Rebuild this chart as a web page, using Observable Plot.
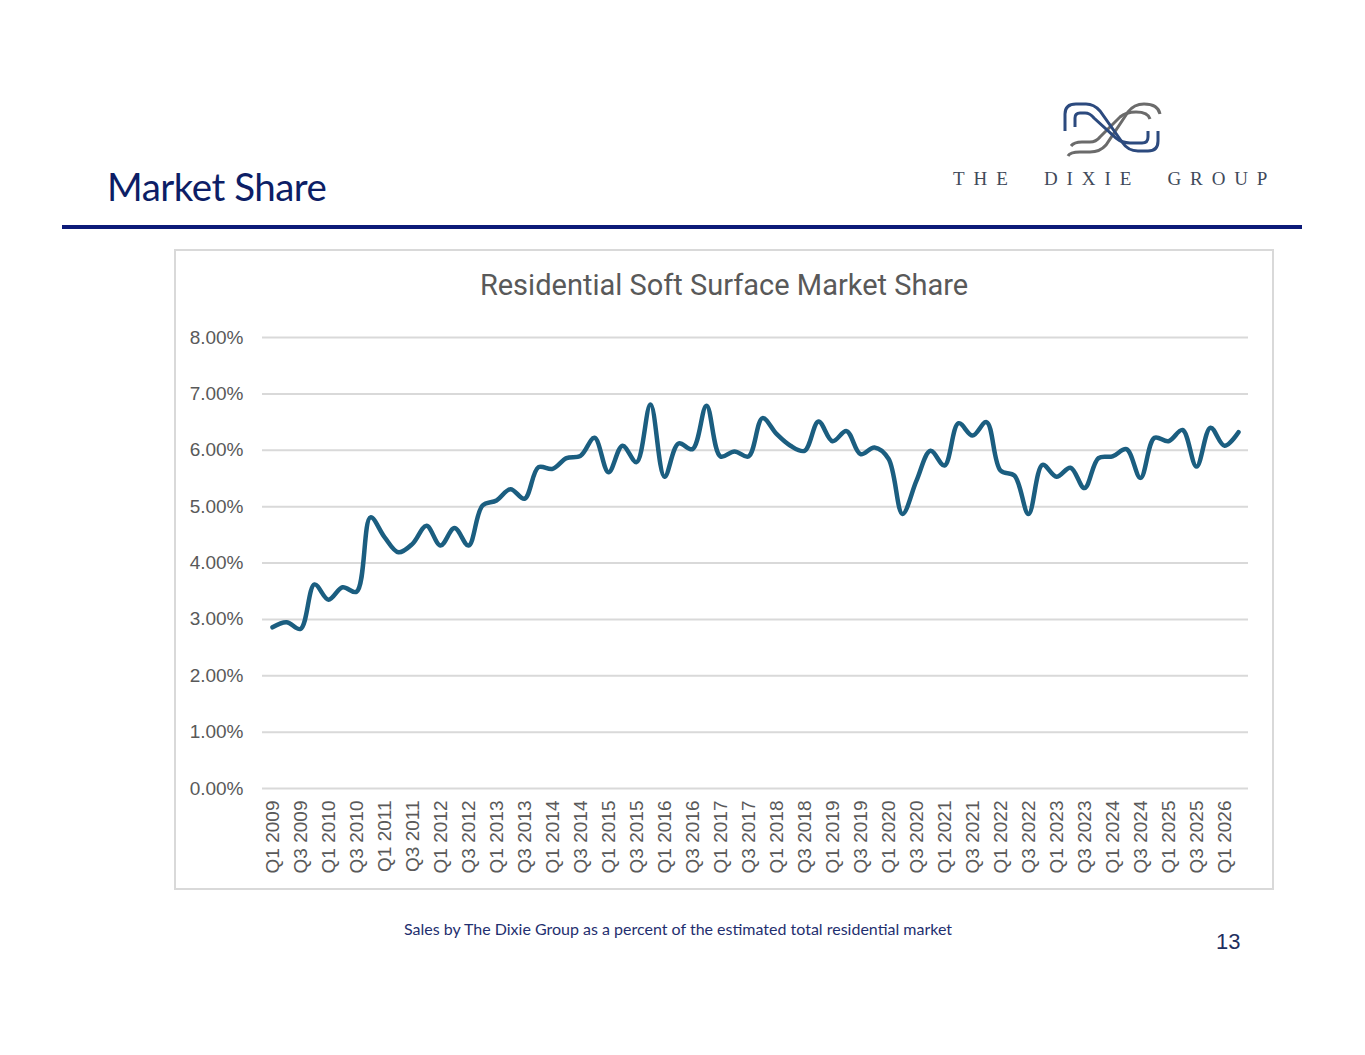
<!DOCTYPE html>
<html>
<head>
<meta charset="utf-8">
<script src="https://cdn.jsdelivr.net/npm/d3@7"></script>
<script src="https://cdn.jsdelivr.net/npm/@observablehq/plot@0.6"></script>
<style>
  html, body { margin: 0; padding: 0; background: #fff; }
  body { width: 1365px; height: 1055px; position: relative; overflow: hidden; }
  .abs { position: absolute; }
  #header { left: 107px; top: 163px; font-family: Lato, "Open Sans", sans-serif; font-size: 38.5px; color: #0d1e66; letter-spacing: -0.5px; white-space: nowrap; }
  #rule { left: 62px; top: 225px; width: 1240px; height: 4px; background: #0c1a78; }
  #box { left: 174px; top: 249px; width: 1096px; height: 637px; border: 2px solid #d9d9d9; }
  #ctitle { left: 174px; width: 1100px; top: 268px; text-align: center; font-family: Roboto, "Open Sans", sans-serif; font-size: 29px; color: #595959; white-space: nowrap; }
  #chart { left: 174px; top: 320px; }
  #footer { left: 404px; top: 919px; font-family: Lato, sans-serif; font-size: 16px; color: #1f2f6f; white-space: nowrap; }
  #page { left: 1216px; top: 929px; font-family: "Liberation Sans", Arial, sans-serif; font-size: 22px; color: #1f2f5f; }
  #logotext { left: 953px; top: 168px; font-family: "Liberation Serif", serif; font-size: 19px; color: #3f4a5a; letter-spacing: 8.9px; white-space: nowrap; }
  #logo { left: 1055px; top: 96px; }
</style>
</head>
<body>
<div id="header" class="abs">Market Share</div>
<svg id="logo" class="abs" width="120" height="70" viewBox="1055 96 120 70">
  <g fill="none" stroke-width="3" stroke-linecap="butt">
    <path stroke="#6b6b6b" d="M1068,156 Q1070,152 1080,152 H1090 Q1100,152 1106,145 L1128,112 Q1134,104 1144,104 Q1158,104 1160,114"/>
    <path stroke="#6b6b6b" d="M1071,146 Q1074,142 1082,142 H1090 Q1096,142 1100,137 L1120,117 Q1126,112 1136,112 Q1148,112 1150,119"/>
    <path stroke="#2c4a7e" d="M1065,131 V114 Q1065,104 1076,104 H1086 Q1094,104 1100,111 L1122,142 Q1128,151 1138,151 H1148 Q1158,151 1158,141 V131"/>
    <path stroke="#2c4a7e" d="M1075,127 V118 Q1075,113 1080,113 H1085 Q1090,113 1094,118 L1116,138 Q1122,143 1130,143 H1142 Q1148,143 1148,137 V131"/>
  </g>
</svg>
<div id="logotext" class="abs">THE&nbsp;&nbsp;DIXIE&nbsp;&nbsp;GROUP</div>
<div id="rule" class="abs"></div>
<div id="box" class="abs"></div>
<div id="ctitle" class="abs">Residential Soft Surface Market Share</div>
<div id="chart" class="abs"></div>
<div id="footer" class="abs">Sales by The Dixie Group as a percent of the estimated total residential market</div>
<div id="page" class="abs">13</div>
<script>
const quarters = [
  "Q1 2009","Q2 2009","Q3 2009","Q4 2009","Q1 2010","Q2 2010","Q3 2010","Q4 2010",
  "Q1 2011","Q2 2011","Q3 2011","Q4 2011","Q1 2012","Q2 2012","Q3 2012","Q4 2012",
  "Q1 2013","Q2 2013","Q3 2013","Q4 2013","Q1 2014","Q2 2014","Q3 2014","Q4 2014",
  "Q1 2015","Q2 2015","Q3 2015","Q4 2015","Q1 2016","Q2 2016","Q3 2016","Q4 2016",
  "Q1 2017","Q2 2017","Q3 2017","Q4 2017","Q1 2018","Q2 2018","Q3 2018","Q4 2018",
  "Q1 2019","Q2 2019","Q3 2019","Q4 2019","Q1 2020","Q2 2020","Q3 2020","Q4 2020",
  "Q1 2021","Q2 2021","Q3 2021","Q4 2021","Q1 2022","Q2 2022","Q3 2022","Q4 2022",
  "Q1 2023","Q2 2023","Q3 2023","Q4 2023","Q1 2024","Q2 2024","Q3 2024","Q4 2024",
  "Q1 2025","Q2 2025","Q3 2025","Q4 2025","Q1 2026","Q2 2026"
];
const share = [
  2.86, 2.95, 2.83, 3.62, 3.35, 3.57, 3.49, 4.81,
  4.46, 4.19, 4.34, 4.66, 4.31, 4.62, 4.31, 5.02,
  5.11, 5.31, 5.14, 5.70, 5.67, 5.86, 5.90, 6.22,
  5.61, 6.08, 5.79, 6.81, 5.53, 6.12, 6.02, 6.79,
  5.89, 5.98, 5.89, 6.57, 6.29, 6.08, 5.99, 6.51,
  6.16, 6.34, 5.93, 6.05, 5.85, 4.87, 5.46, 5.99,
  5.73, 6.48, 6.26, 6.50, 5.64, 5.55, 4.87, 5.74,
  5.53, 5.69, 5.33, 5.86, 5.89, 6.02, 5.51, 6.22,
  6.16, 6.36, 5.71, 6.40, 6.08, 6.32
];
const xTickLabels = [
  "Q1 2009","Q3 2009","Q1 2010","Q3 2010","Q1 2011","Q3 2011","Q1 2012","Q3 2012",
  "Q1 2013","Q3 2013","Q1 2014","Q3 2014","Q1 2015","Q3 2015","Q1 2016","Q3 2016",
  "Q1 2017","Q3 2017","Q1 2018","Q3 2018","Q1 2019","Q3 2019","Q1 2020","Q3 2020",
  "Q1 2021","Q3 2021","Q1 2022","Q3 2022","Q1 2023","Q3 2023","Q1 2024","Q3 2024",
  "Q1 2025","Q3 2025","Q1 2026"
];
const yTicks = [0, 0.01, 0.02, 0.03, 0.04, 0.05, 0.06, 0.07, 0.08];

const data = quarters.map((q, i) => ({q, v: share[i] / 100}));

const chart = Plot.plot({
  width: 1098,
  height: 560,
  marginLeft: 88,
  marginRight: 24,
  marginTop: 17,
  marginBottom: 92,
  style: {fontFamily: "'Liberation Sans', Arial, sans-serif", fontSize: "19px", color: "#595959", background: "transparent"},
  x: {type: "point", domain: quarters, padding: 0.5},
  y: {domain: [0, 0.08]},
  marks: [
    Plot.ruleY(yTicks, {stroke: "#d9d9d9", strokeWidth: 2}),
    Plot.axisY({ticks: yTicks, tickFormat: d3.format(".2%"), tickSize: 0, tickPadding: 19, fontSize: 19, label: null, fill: "#595959"}),
    Plot.axisX({ticks: xTickLabels, tickRotate: -90, tickSize: 0, tickPadding: 12, fontSize: 19, label: null, fill: "#595959"}),
    Plot.line(data, {x: "q", y: "v", stroke: "#1b5e80", strokeWidth: 4.5, curve: "catmull-rom", strokeLinejoin: "round", strokeLinecap: "round"})
  ]
});
document.getElementById("chart").appendChild(chart);
</script>
</body>
</html>
